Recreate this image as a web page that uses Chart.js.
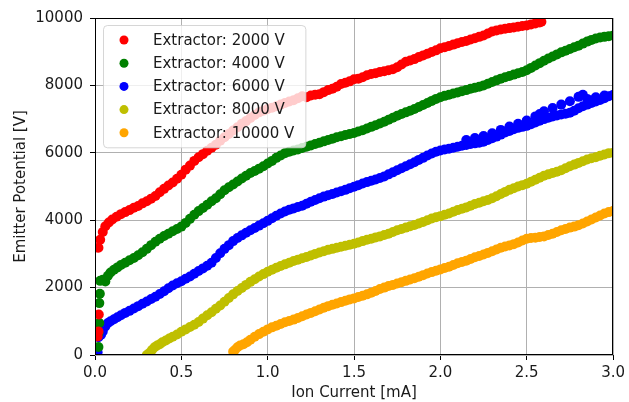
<!DOCTYPE html>
<html><head><meta charset="utf-8">
<script src="https://cdn.jsdelivr.net/npm/chart.js@4"></script>
<style>html,body{margin:0;padding:0;background:#fff}canvas{display:block}</style>
</head><body>
<canvas id="c" width="629" height="402"></canvas>
<script>
// ---- data: [ion current (mA), emitter potential (V)] ----
const seriesLabels = ['Extractor: 2000 V','Extractor: 4000 V','Extractor: 6000 V','Extractor: 8000 V','Extractor: 10000 V'];
const xTickLabels = ['0.0','0.5','1.0','1.5','2.0','2.5','3.0'];
const yTickLabels = ['0','2000','4000','6000','8000','10000'];
const xAxisTitle = 'Ion Current [mA]';
const yAxisTitle = 'Emitter Potential [V]';

const ext2000 = [[0.015,550],[0.02,700],[0.022,1200],[0.02,3180],[0.03,3420],[0.045,3650],[0.06,3820],[0.08,3930],
 [0.10,4020],[0.125,4100],[0.15,4180],[0.175,4240],[0.20,4300],[0.225,4370],[0.25,4420],[0.275,4500],[0.30,4560],
 [0.325,4640],[0.35,4720],[0.375,4830],[0.40,4930],[0.425,5030],[0.45,5120],[0.475,5230],[0.50,5350],[0.525,5500],
 [0.55,5620],[0.575,5760],[0.60,5870],[0.625,5960],[0.65,6060],[0.675,6150],[0.70,6240],[0.725,6360],[0.75,6460],
 [0.775,6560],[0.80,6660],[0.825,6760],[0.85,6860],[0.875,6940],[0.90,7030],[0.925,7120],[0.95,7200],[0.975,7250],
 [1.00,7300],[1.025,7340],[1.05,7380],[1.075,7430],[1.10,7480],[1.125,7520],[1.15,7560],[1.175,7620],[1.20,7680],
 [1.225,7650],[1.25,7700],[1.275,7720],[1.30,7740],[1.325,7800],[1.35,7860],[1.375,7900],[1.40,7960],[1.425,8040],
 [1.45,8080],[1.475,8120],[1.50,8180],[1.525,8200],[1.55,8240],[1.575,8300],[1.60,8340],[1.625,8360],[1.65,8400],
 [1.675,8420],[1.70,8450],[1.725,8480],[1.75,8540],[1.775,8620],[1.80,8700],[1.825,8740],[1.85,8780],[1.875,8840],
 [1.90,8890],[1.925,8940],[1.95,8990],[1.975,9040],[2.00,9100],[2.025,9130],[2.05,9170],[2.075,9210],[2.10,9250],
 [2.125,9290],[2.15,9320],[2.175,9360],[2.20,9400],[2.225,9440],[2.25,9480],[2.275,9540],[2.30,9600],[2.325,9630],
 [2.35,9660],[2.375,9680],[2.40,9700],[2.425,9720],[2.45,9740],[2.475,9760],[2.50,9780],[2.525,9810],[2.55,9840],
 [2.575,9870],[2.585,9890]];

const ext4000 = [[0.02,240],[0.02,650],[0.025,950],[0.025,1540],[0.028,1820],[0.03,2200],[0.045,2230],[0.06,2180],
 [0.075,2350],[0.09,2450],[0.11,2530],[0.13,2600],[0.15,2670],[0.175,2740],[0.20,2810],[0.225,2880],[0.25,2960],
 [0.275,3050],[0.30,3150],[0.325,3260],[0.35,3360],[0.375,3450],[0.40,3530],[0.425,3600],[0.45,3670],[0.475,3740],
 [0.50,3810],[0.525,3920],[0.55,4040],[0.575,4160],[0.60,4270],[0.625,4360],[0.65,4460],[0.675,4560],[0.70,4650],
 [0.725,4770],[0.75,4890],[0.775,4980],[0.80,5060],[0.825,5150],[0.85,5240],[0.875,5320],[0.90,5400],[0.925,5460],
 [0.95,5530],[0.975,5600],[1.00,5680],[1.025,5760],[1.05,5850],[1.075,5920],[1.10,5990],[1.125,6030],[1.15,6070],
 [1.175,6100],[1.20,6140],[1.225,6180],[1.25,6220],[1.275,6260],[1.30,6300],[1.325,6340],[1.35,6380],[1.375,6420],
 [1.40,6460],[1.425,6490],[1.45,6530],[1.475,6560],[1.50,6590],[1.525,6630],[1.55,6670],[1.575,6720],[1.60,6770],
 [1.625,6820],[1.65,6870],[1.675,6920],[1.70,6980],[1.725,7040],[1.75,7100],[1.775,7150],[1.80,7200],[1.825,7250],
 [1.85,7300],[1.875,7360],[1.90,7420],[1.925,7480],[1.95,7540],[1.975,7600],[2.00,7650],[2.025,7690],[2.05,7720],
 [2.075,7760],[2.10,7790],[2.125,7830],[2.15,7860],[2.175,7900],[2.20,7930],[2.225,7960],[2.25,8000],[2.275,8050],
 [2.30,8100],[2.325,8150],[2.35,8200],[2.375,8240],[2.40,8280],[2.425,8320],[2.45,8360],[2.475,8400],[2.50,8450],
 [2.525,8520],[2.55,8590],[2.575,8660],[2.60,8730],[2.625,8800],[2.65,8860],[2.675,8920],[2.70,8980],[2.725,9030],
 [2.75,9080],[2.775,9130],[2.80,9180],[2.825,9240],[2.85,9300],[2.875,9350],[2.90,9390],[2.925,9420],[2.95,9440],
 [2.975,9460],[3.00,9480]];

const ext6000 = [[0.01,0],[0.015,80],[0.02,530],[0.025,740],[0.035,600],[0.045,700],[0.06,850],[0.075,950],
 [0.09,1000],[0.11,1060],[0.13,1120],[0.15,1180],[0.175,1250],[0.20,1310],[0.225,1380],[0.25,1450],[0.275,1520],
 [0.30,1590],[0.325,1660],[0.35,1730],[0.375,1810],[0.40,1890],[0.425,1980],[0.45,2060],[0.475,2130],[0.50,2190],
 [0.525,2260],[0.55,2330],[0.575,2410],[0.60,2490],[0.625,2570],[0.65,2650],[0.675,2740],[0.70,2880],[0.725,3020],
 [0.75,3150],[0.775,3260],[0.80,3380],[0.825,3470],[0.85,3550],[0.875,3630],[0.90,3700],[0.925,3770],[0.95,3840],
 [0.975,3910],[1.00,3980],[1.025,4060],[1.05,4130],[1.075,4200],[1.10,4260],[1.125,4310],[1.15,4350],[1.175,4390],
 [1.20,4430],[1.225,4490],[1.25,4550],[1.275,4600],[1.30,4650],[1.325,4700],[1.35,4740],[1.375,4780],[1.40,4820],
 [1.425,4860],[1.45,4900],[1.475,4950],[1.50,4990],[1.525,5040],[1.55,5090],[1.575,5130],[1.60,5170],[1.625,5210],
 [1.65,5250],[1.675,5300],[1.70,5360],[1.725,5420],[1.75,5480],[1.775,5540],[1.80,5600],[1.825,5660],[1.85,5720],
 [1.875,5790],[1.90,5850],[1.925,5920],[1.95,5980],[1.975,6030],[2.00,6070],[2.025,6100],[2.05,6120],[2.075,6150],
 [2.10,6180],[2.125,6210],[2.15,6230],[2.175,6260],[2.20,6280],[2.225,6300],[2.25,6330],[2.275,6380],[2.30,6430],
 [2.325,6480],[2.35,6540],[2.375,6600],[2.40,6650],[2.425,6700],[2.45,6740],[2.475,6770],[2.50,6800],[2.525,6850],
 [2.55,6900],[2.575,6950],[2.60,7000],[2.625,7040],[2.65,7080],[2.675,7110],[2.70,7140],[2.725,7160],[2.75,7190],
 [2.775,7250],[2.80,7320],[2.825,7380],[2.85,7430],[2.875,7480],[2.90,7520],[2.925,7570],[2.95,7620],[2.975,7680],
 [3.00,7720],
 [2.15,6380],[2.20,6440],[2.25,6500],[2.30,6580],[2.35,6680],[2.40,6780],[2.45,6860],[2.50,6960],[2.55,7080],
 [2.575,7150],[2.60,7230],[2.65,7330],[2.70,7430],[2.75,7530],[2.80,7660],[2.825,7720],[2.85,7600],[2.90,7650],
 [2.95,7700]];

const ext8000 = [[0.30,0],[0.315,60],[0.33,150],[0.345,230],[0.36,280],[0.375,320],[0.39,380],[0.41,430],[0.43,490],
 [0.45,540],[0.475,610],[0.50,690],[0.525,760],[0.55,830],[0.575,900],[0.60,980],[0.625,1080],[0.65,1180],
 [0.675,1270],[0.70,1370],[0.725,1470],[0.75,1580],[0.775,1690],[0.80,1800],[0.825,1900],[0.85,1990],[0.875,2080],
 [0.90,2170],[0.925,2250],[0.95,2330],[0.975,2400],[1.00,2470],[1.025,2530],[1.05,2590],[1.075,2640],[1.10,2690],
 [1.125,2740],[1.15,2790],[1.175,2830],[1.20,2870],[1.225,2910],[1.25,2950],[1.275,3000],[1.30,3040],[1.325,3080],
 [1.35,3120],[1.375,3150],[1.40,3180],[1.425,3210],[1.45,3240],[1.475,3270],[1.50,3300],[1.525,3340],[1.55,3380],
 [1.575,3420],[1.60,3450],[1.625,3490],[1.65,3520],[1.675,3560],[1.70,3600],[1.725,3650],[1.75,3700],[1.775,3740],
 [1.80,3780],[1.825,3820],[1.85,3860],[1.875,3900],[1.90,3950],[1.925,4000],[1.95,4050],[1.975,4090],[2.00,4120],
 [2.025,4160],[2.05,4200],[2.075,4250],[2.10,4300],[2.125,4340],[2.15,4380],[2.175,4430],[2.20,4480],[2.225,4520],
 [2.25,4560],[2.275,4600],[2.30,4650],[2.325,4710],[2.35,4780],[2.375,4840],[2.40,4900],[2.425,4950],[2.45,5000],
 [2.475,5040],[2.50,5080],[2.525,5140],[2.55,5200],[2.575,5260],[2.60,5320],[2.625,5360],[2.65,5400],[2.675,5440],
 [2.70,5480],[2.725,5540],[2.75,5600],[2.775,5650],[2.80,5700],[2.825,5750],[2.85,5800],[2.875,5840],[2.90,5870],
 [2.925,5910],[2.95,5950],[2.975,5990],[3.00,6000]];

const ext10000 = [[0.80,100],[0.81,150],[0.825,230],[0.84,280],[0.86,320],[0.88,380],[0.90,450],[0.925,540],
 [0.95,620],[0.975,690],[1.00,760],[1.025,820],[1.05,870],[1.075,920],[1.10,970],[1.125,1010],[1.15,1050],
 [1.175,1100],[1.20,1150],[1.225,1200],[1.25,1250],[1.275,1300],[1.30,1350],[1.325,1400],[1.35,1450],[1.375,1490],
 [1.40,1530],[1.425,1570],[1.45,1610],[1.475,1650],[1.50,1680],[1.525,1720],[1.55,1760],[1.575,1800],[1.60,1850],
 [1.625,1900],[1.65,1960],[1.675,2000],[1.70,2050],[1.725,2080],[1.75,2120],[1.775,2160],[1.80,2200],[1.825,2240],
 [1.85,2280],[1.875,2320],[1.90,2370],[1.925,2420],[1.95,2460],[1.975,2500],[2.00,2540],[2.025,2580],[2.05,2620],
 [2.075,2670],[2.10,2720],[2.125,2760],[2.15,2800],[2.175,2850],[2.20,2900],[2.225,2940],[2.25,2980],[2.275,3030],
 [2.30,3080],[2.325,3130],[2.35,3180],[2.375,3220],[2.40,3250],[2.425,3290],[2.45,3340],[2.475,3400],[2.50,3450],
 [2.525,3470],[2.55,3480],[2.575,3500],[2.60,3520],[2.625,3560],[2.65,3600],[2.675,3650],[2.70,3700],[2.725,3740],
 [2.75,3780],[2.775,3810],[2.80,3850],[2.825,3900],[2.85,3960],[2.875,4020],[2.90,4080],[2.925,4140],[2.95,4200],
 [2.975,4240],[3.00,4280]];

const allSeries = [ext2000, ext4000, ext6000, ext8000, ext10000];
const seriesColors = ['#ff0000','#008000','#0000ff','#bfbf00','#ffa500'];

// ---- chart ----
const FONT = "'DejaVu Sans', sans-serif";
const TXT = '#1a1a1a';
const POINT_R = 5;
const LEGEND_R = 4.5;

const datasets = allSeries.map((s, k) => ({
  label: seriesLabels[k],
  data: s.map(p => ({x: p[0], y: p[1]})),
  backgroundColor: seriesColors[k],
  borderWidth: 0,
  pointRadius: POINT_R,
  pointHoverRadius: POINT_R,
  clip: 0
}));

const framePlugin = {
  id: 'frameAndLegend',
  afterDatasetsDraw(chart) {
    const ctx = chart.ctx, a = chart.chartArea;
    ctx.save();
    ctx.strokeStyle = '#000';
    ctx.lineWidth = 1;
    ctx.strokeRect(Math.round(a.left) + 0.5, Math.round(a.top) + 0.5,
                   Math.round(a.right - a.left) - 1, Math.round(a.bottom - a.top) - 1);
    ctx.font = "15px " + FONT;
    let maxW = 0;
    seriesLabels.forEach(t => { maxW = Math.max(maxW, ctx.measureText(t).width); });
    const bx = a.left + 8, by = a.top + 7;
    const rowH = 23.2;
    const bw = 50 + maxW + 11, bh = 15 + rowH * (seriesLabels.length - 1) + 14.5;
    ctx.beginPath();
    ctx.roundRect(bx + 0.5, by + 0.5, bw, bh, 4);
    ctx.fillStyle = 'rgba(255,255,255,0.8)';
    ctx.fill();
    ctx.strokeStyle = 'rgba(204,204,204,0.8)';
    ctx.lineWidth = 1;
    ctx.stroke();
    seriesLabels.forEach((t, k) => {
      const cy = by + 15 + rowH * k;
      ctx.beginPath();
      ctx.arc(bx + 21, cy, LEGEND_R, 0, Math.PI * 2);
      ctx.fillStyle = seriesColors[k];
      ctx.fill();
      ctx.fillStyle = TXT;
      ctx.textBaseline = 'middle';
      ctx.textAlign = 'left';
      ctx.fillText(t, bx + 50, cy + 1);
    });
    ctx.restore();
  }
};

new Chart(document.getElementById('c'), {
  type: 'scatter',
  data: { datasets },
  options: {
    responsive: false,
    animation: false,
    devicePixelRatio: 1,
    layout: { padding: { left: 0, top: 18, right: 14, bottom: 0 } },
    plugins: { legend: { display: false }, tooltip: { enabled: false } },
    scales: {
      x: {
        type: 'linear', min: 0, max: 3,
        afterFit: s => { s.height = 47; },
        afterBuildTicks: s => { s.ticks = xTickLabels.map(v => ({value: parseFloat(v)})); },
        ticks: { callback: (v, i) => xTickLabels[i], font: {family: FONT, size: 15}, color: TXT, padding: 4, maxRotation: 0 },
        grid: { color: '#b0b0b0', lineWidth: 1, tickColor: '#000', tickLength: 5, drawTicks: true },
        border: { display: false },
        title: { display: true, text: xAxisTitle, font: {family: FONT, size: 15}, color: TXT, padding: {top: 0, bottom: 0} }
      },
      y: {
        type: 'linear', min: 0, max: 10000,
        afterFit: s => { s.width = 95; },
        afterBuildTicks: s => { s.ticks = yTickLabels.map(v => ({value: parseFloat(v)})); },
        ticks: { callback: (v, i) => yTickLabels[i], font: {family: FONT, size: 15}, color: TXT, padding: 7 },
        grid: { color: '#b0b0b0', lineWidth: 1, tickColor: '#000', tickLength: 5, drawTicks: true },
        border: { display: false },
        title: { display: true, text: yAxisTitle, font: {family: FONT, size: 15}, color: TXT, padding: {top: 12, bottom: 0} }
      }
    }
  },
  plugins: [framePlugin]
});
</script>
</body></html>
